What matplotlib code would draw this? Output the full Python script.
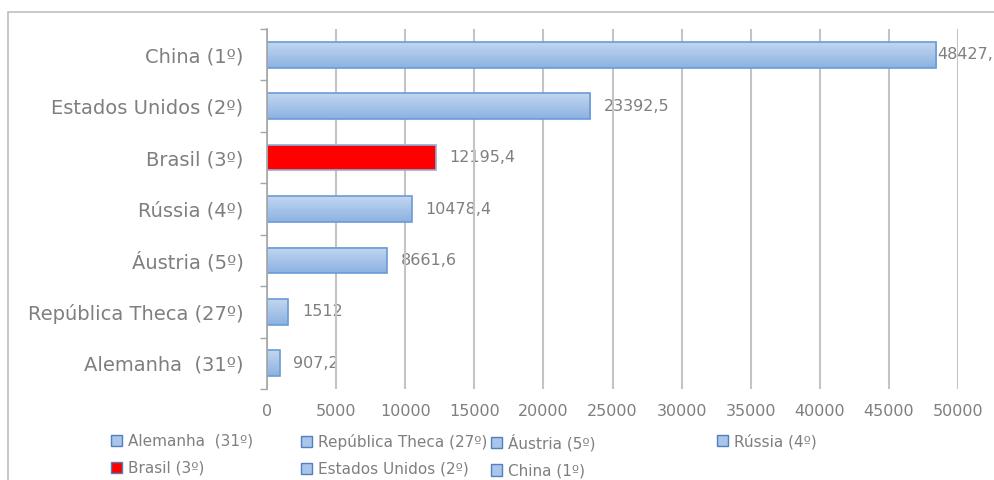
import numpy as np
import matplotlib.pyplot as plt
from matplotlib.patches import Patch, Rectangle
from matplotlib.colors import LinearSegmentedColormap

# dados do ranking (de cima para baixo)
paises = ["China (1º)", "Estados Unidos (2º)", "Brasil (3º)", "Rússia (4º)",
          "Áustria (5º)", "República Theca (27º)", "Alemanha  (31º)"]
valores = [48427.3, 23392.5, 12195.4, 10478.4, 8661.6, 1512, 907.2]
rotulos = ["48427,3", "23392,5", "12195,4", "10478,4", "8661,6", "1512", "907,2"]
destaque = "Brasil (3º)"

# ordem da legenda, por coluna
legenda_cols = [["Alemanha  (31º)", "Brasil (3º)"],
                ["República Theca (27º)", "Estados Unidos (2º)"],
                ["Áustria (5º)", "China (1º)"],
                ["Rússia (4º)"]]

CINZA = "#7f7f7f"
AZUL_EDGE = "#6b9bd6"
azul_grad = LinearSegmentedColormap.from_list("azul", ["#c2d6f0", "#8cb2e2"])

plt.rcParams['font.family'] = ['DejaVu Sans']

fig = plt.figure(figsize=(9.95, 4.8), dpi=100)
ax = fig.add_axes([267 / 995, 1 - 389 / 480, 691 / 995, 360 / 480])

# moldura do gráfico
fig.patches.append(Rectangle((8 / 995, -0.1), 2, 1.1 - 12 / 480, transform=fig.transFigure,
                             fill=False, edgecolor="#bfbfbf", linewidth=1.2))

y = np.arange(len(paises))
altura = 0.5
grad = np.linspace(0, 1, 64).reshape(-1, 1)
for yi, v, nome, txt in zip(y, valores, paises, rotulos):
    if nome == destaque:
        ax.barh(yi, v, height=altura, color="#ff0000", edgecolor="#8db0dc", linewidth=1.2, zorder=3)
    else:
        ax.imshow(grad, cmap=azul_grad, aspect="auto", origin="upper",
                  extent=[0, v, yi + altura / 2, yi - altura / 2], zorder=3)
        ax.barh(yi, v, height=altura, color="none", edgecolor=AZUL_EDGE, linewidth=1.2, zorder=4)
    dx = 1 if v > 45000 else 10
    ax.annotate(txt, (v, yi), xytext=(dx, 0), textcoords="offset points",
                va="center", ha="left", fontsize=11.5, color=CINZA, zorder=2,
                annotation_clip=False)

ax.set_xlim(0, 50000)
ax.set_ylim(len(paises) - 0.5, -0.5)
ax.set_xticks(np.arange(0, 50001, 5000))
ax.set_yticks(y)
ax.set_yticklabels(paises)
ax.set_yticks(np.arange(-0.5, len(paises)), minor=True)
ax.tick_params(axis="y", which="major", length=0, pad=17, labelsize=14, labelcolor=CINZA)
ax.tick_params(axis="y", which="minor", length=5, width=1, color="#a6a6a6", direction="out")
ax.tick_params(axis="x", length=0, pad=11, labelsize=11.5, labelcolor=CINZA)

ax.grid(axis="x", color="#c4c4c4", linewidth=1.5, zorder=5)
ax.set_axisbelow(False)
for s in ["top", "right", "bottom"]:
    ax.spines[s].set_visible(False)
ax.spines["left"].set_color("#a6a6a6")
ax.spines["left"].set_linewidth(1.2)
ax.spines["left"].set_zorder(6)

# legenda em colunas
col_x = [103, 293, 483, 709]
for cx, col in zip(col_x, legenda_cols):
    handles = []
    for nome in col:
        cor = "#ff0000" if nome == destaque else "#a9c5eb"
        handles.append(Patch(facecolor=cor, edgecolor="#4f81bd", label=nome))
    fig.legend(handles=handles, loc="upper left", bbox_to_anchor=(cx / 995, 1 - 426 / 480),
               frameon=False, fontsize=11, labelcolor=CINZA, handlelength=0.75,
               handleheight=0.75, handletextpad=0.4, labelspacing=0.8, borderpad=0)

fig.savefig("out.png", dpi=100)
